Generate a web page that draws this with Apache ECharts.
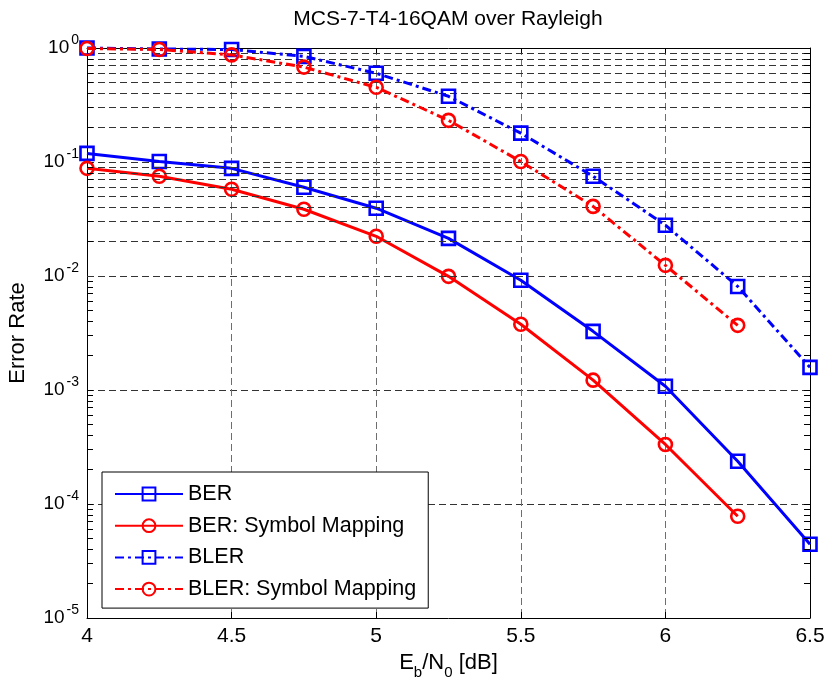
<!DOCTYPE html>
<html><head><meta charset="utf-8">
<script src="https://cdn.jsdelivr.net/npm/echarts@6/dist/echarts.min.js"></script>
<style>html,body{margin:0;padding:0;background:#fff}#c{width:824px;height:680px}</style>
</head><body><div id="c"></div>
<script>
// ---- data ----
const ebn0 = [4, 4.25, 4.5, 4.75, 5, 5.25, 5.5, 5.75, 6, 6.25, 6.5];
const berValues = [0.119, 0.101, 0.088, 0.060, 0.0393, 0.0214, 0.00917, 0.00327, 0.00108, 0.000237, 0.0000444];
const berSymbolMapping = [0.088, 0.075, 0.0577, 0.0385, 0.0223, 0.00993, 0.00377, 0.00122, 0.000333, 0.000078];
const blerValues = [1.0, 0.98, 0.97, 0.845, 0.60, 0.377, 0.179, 0.075, 0.0279, 0.0081, 0.00158];
const blerSymbolMapping = [0.99, 0.97, 0.87, 0.68, 0.452, 0.232, 0.101, 0.0408, 0.0124, 0.00369];
const seriesNames = ['BER', 'BER: Symbol Mapping', 'BLER', 'BLER: Symbol Mapping'];
const xTickValues = [4, 4.5, 5, 5.5, 6, 6.5];
const yDecadeExponents = [-5, -4, -3, -2, -1, 0];
const minorMultipliers = [2, 3, 4, 5, 6, 7, 8, 9];
const titleText = 'MCS-7-T4-16QAM over Rayleigh';
const yAxisTitle = 'Error Rate';

// ---- build ----
const FONT = '"Liberation Sans", Arial, Helvetica, sans-serif';
const BLUE = '#0000ff', RED = '#ff0000';
const DASHDOT = [9, 4, 3, 4];

const minorValues = [];
yDecadeExponents.slice(0, -1).forEach(e => {
  minorMultipliers.forEach(m => minorValues.push(m * Math.pow(10, e)));
});

function pairs(vals) { return vals.map((v, i) => [ebn0[i], v]); }
function mk(name, vals, color, symbol, dashed, z) {
  return {
    name, type: 'line', data: pairs(vals), symbol, symbolSize: 13, showSymbol: true,
    z, animation: false, clip: false,
    lineStyle: { color, width: 3, type: dashed ? DASHDOT : 'solid' },
    itemStyle: { color: 'rgba(255,255,255,0)', borderColor: color, borderWidth: 2.6 },
    emphasis: { disabled: true }
  };
}

const xMin = xTickValues[0], xMax = xTickValues[xTickValues.length - 1];
const tickLen = (xMax - xMin) * 6 / 723;

const series = [
  {
    name: '_minorGrid', type: 'line', data: [], z: 1, silent: true, animation: false,
    markLine: {
      silent: true, symbol: ['none', 'none'], animation: false, label: { show: false },
      lineStyle: { color: '#333', width: 1, type: [7, 4] },
      emphasis: { disabled: true },
      data: minorValues.map(v => ({ yAxis: v }))
    }
  },
  {
    name: '_minorTicks', type: 'line', data: [], z: 1, silent: true, animation: false,
    markLine: {
      silent: true, symbol: ['none', 'none'], animation: false, label: { show: false },
      lineStyle: { color: '#000', width: 1, type: 'solid' },
      emphasis: { disabled: true },
      data: minorValues.flatMap(v => [
        [{ coord: [xMin, v] }, { coord: [xMin + tickLen, v] }],
        [{ coord: [xMax - tickLen, v] }, { coord: [xMax, v] }]
      ])
    }
  },
  mk(seriesNames[0], berValues, BLUE, 'rect', false, 3),
  mk(seriesNames[1], berSymbolMapping, RED, 'circle', false, 4),
  mk(seriesNames[2], blerValues, BLUE, 'rect', true, 5),
  mk(seriesNames[3], blerSymbolMapping, RED, 'circle', true, 6)
];

const axisLine = { show: true, onZero: false, lineStyle: { color: '#000', width: 1 } };
const axisTick = { show: true, inside: true, length: 6, lineStyle: { color: '#000', width: 1 } };

const option = {
  backgroundColor: '#fff',
  animation: false,
  title: {
    text: titleText, left: 448, top: 9, textAlign: 'center', padding: 0,
    textStyle: { fontSize: 21, fontWeight: 'normal', color: '#000', fontFamily: FONT }
  },
  grid: { left: 87, right: 14, top: 48, bottom: 62, containLabel: false, outerBoundsMode: 'none' },
  legend: {
    orient: 'vertical', left: 102, top: 472, data: seriesNames,
    backgroundColor: '#fff', borderColor: '#000', borderWidth: 1, borderRadius: 0,
    padding: [11, 12, 8, 12], itemWidth: 68, itemHeight: 16, itemGap: 9.7,
    selectedMode: false,
    textStyle: { fontSize: 21.5, color: '#000', lineHeight: 16, fontFamily: FONT }
  },
  xAxis: [
    {
      type: 'value', min: xMin, max: xMax, interval: 0.5, position: 'bottom',
      axisLine, axisTick,
      axisLabel: { color: '#000', fontSize: 21, margin: 8, fontFamily: FONT, showMinLabel: true, showMaxLabel: true },
      splitLine: { show: true, lineStyle: { color: '#6e6e6e', width: 1, type: [7, 4] } },
      name: '{t|E}{s|b}{t|/N}{s|0}{t| [dB]}', nameLocation: 'middle', nameGap: 34,
      nameTextStyle: {
        color: '#000', fontFamily: FONT,
        rich: {
          t: { fontSize: 22, lineHeight: 22, verticalAlign: 'top', color: '#000', fontFamily: FONT },
          s: { fontSize: 15, lineHeight: 15, padding: [13, 0, 0, 0], verticalAlign: 'top', color: '#000', fontFamily: FONT }
        }
      }
    },
    {
      type: 'value', min: xMin, max: xMax, interval: 0.5, position: 'top',
      axisLine, axisTick, axisLabel: { show: false }, splitLine: { show: false }
    }
  ],
  yAxis: [
    {
      type: 'log', logBase: 10, min: Math.pow(10, yDecadeExponents[0]), max: Math.pow(10, yDecadeExponents[yDecadeExponents.length - 1]),
      splitNumber: 5, position: 'left',
      axisLine, axisTick,
      axisLabel: {
        margin: 8, color: '#000', fontFamily: FONT,
        formatter: v => '{b|10}{s|' + Math.round(Math.log10(v)) + '}',
        rich: {
          b: { fontSize: 19, lineHeight: 30, verticalAlign: 'middle', color: '#000', fontFamily: FONT, padding: [0, 2, 0, 0] },
          s: { fontSize: 14, lineHeight: 14, verticalAlign: 'top', color: '#000', fontFamily: FONT }
        }
      },
      splitLine: { show: true, lineStyle: { color: '#333', width: 1, type: [7, 4] } },
      name: yAxisTitle, nameLocation: 'middle', nameGap: 58,
      nameTextStyle: { fontSize: 22, color: '#000', fontFamily: FONT }
    },
    {
      type: 'log', logBase: 10, min: Math.pow(10, yDecadeExponents[0]), max: Math.pow(10, yDecadeExponents[yDecadeExponents.length - 1]),
      splitNumber: 5, position: 'right',
      axisLine, axisTick, axisLabel: { show: false }, splitLine: { show: false }
    }
  ],
  series
};

const chart = echarts.init(document.getElementById('c'), null, { renderer: 'canvas' });
chart.setOption(option);
</script>
</body></html>
